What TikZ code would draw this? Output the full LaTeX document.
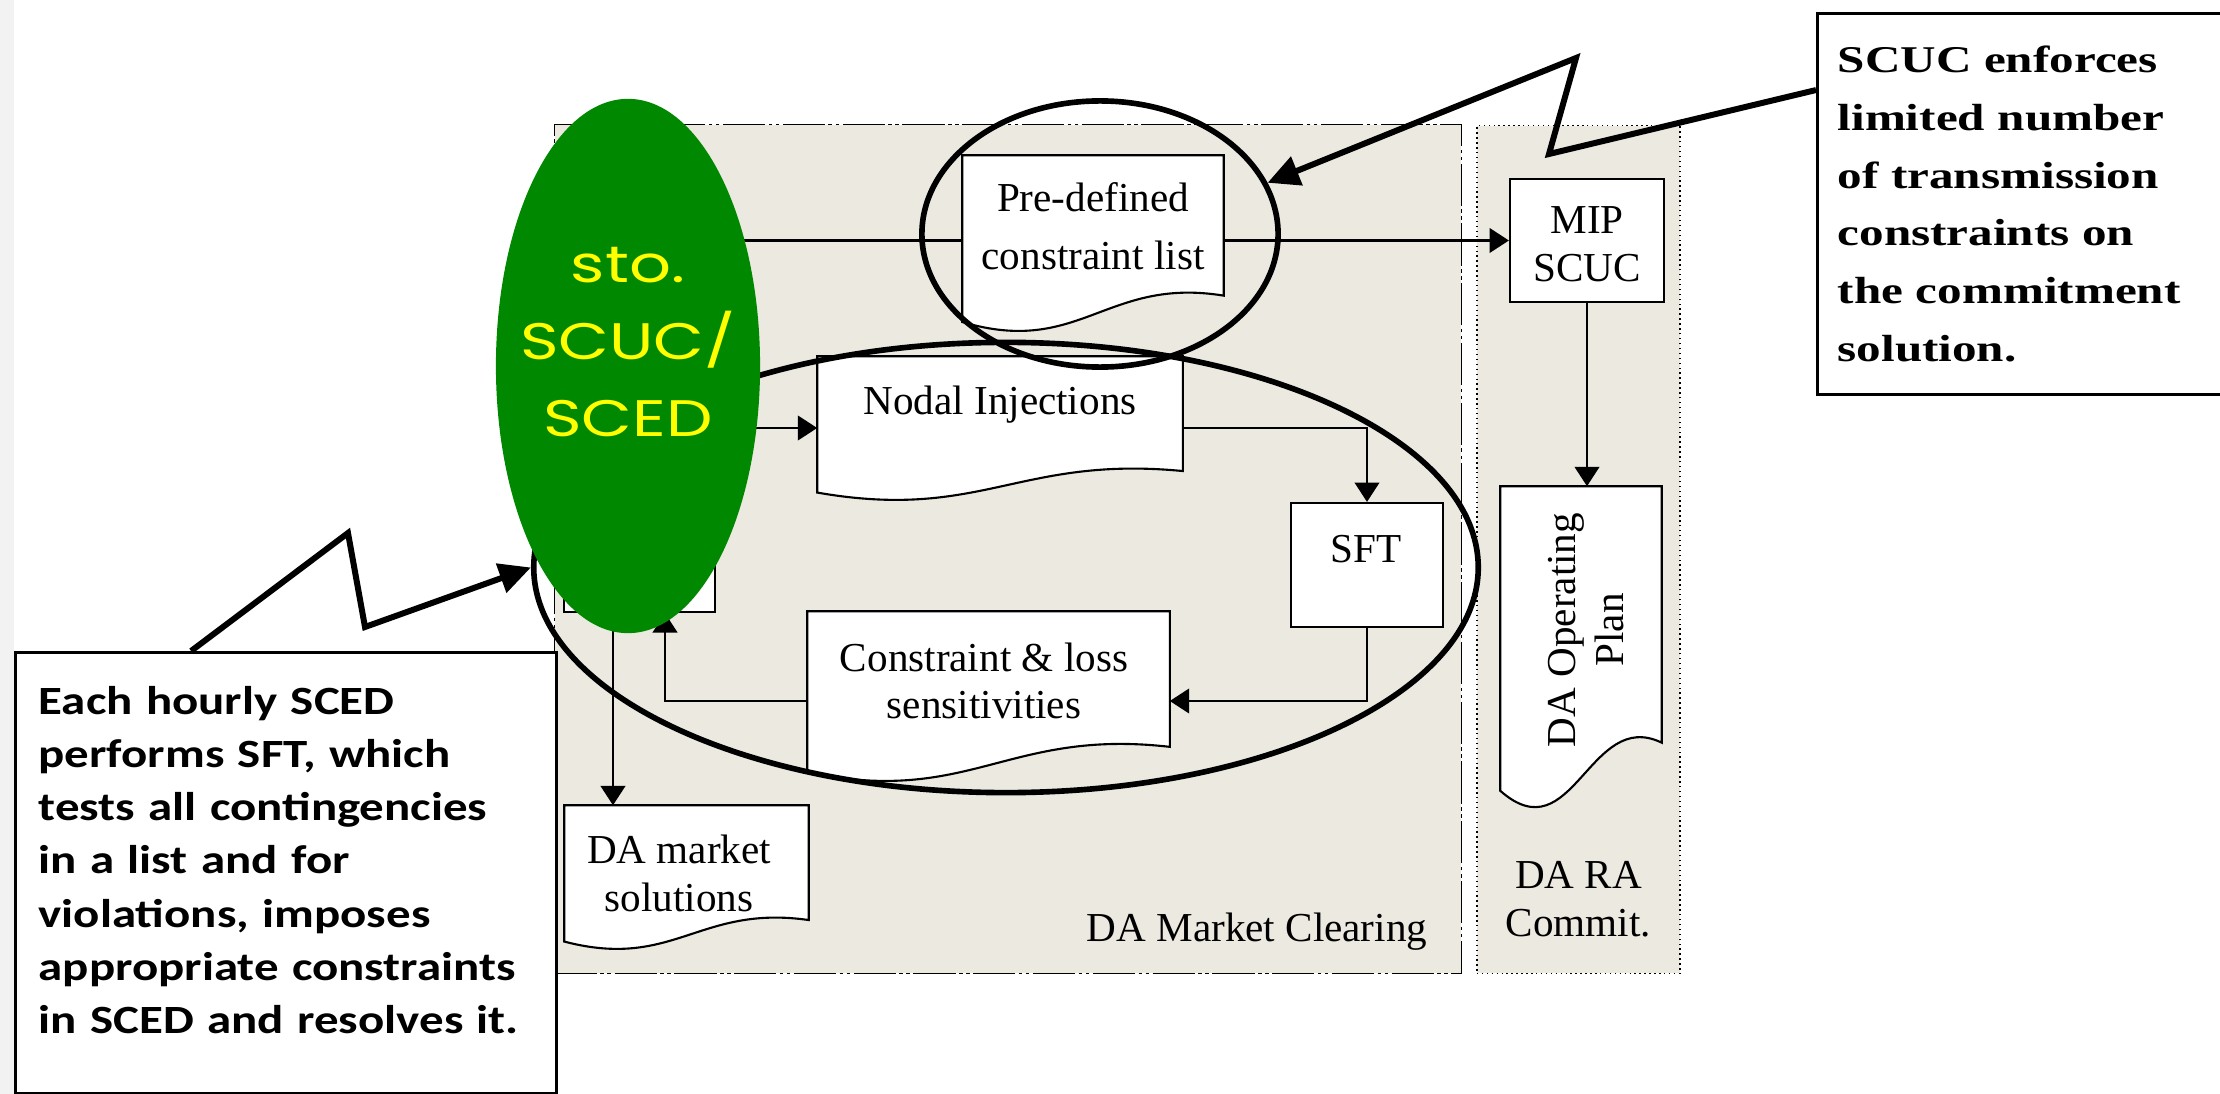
\documentclass[tikz,border=0pt]{standalone}
\usepackage{fontspec}
\setmainfont{Liberation Serif}
\newfontfamily\notefont[FakeStretch=1.22]{Carlito}
\newfontfamily\boldnotefont[FakeStretch=1.3]{Liberation Serif}
\newfontfamily\handfont[FakeStretch=1.28]{Poppins}
\usepackage{tikz}
\usetikzlibrary{shapes.geometric,arrows.meta,positioning,calc}
\definecolor{panelBeige}{RGB}{236,233,224}
\definecolor{stoGreen}{RGB}{0,137,0}
\definecolor{stoYellow}{RGB}{255,255,0}
\definecolor{edgeGray}{RGB}{242,242,242}
\newcommand{\docshape}[1]{%
  \begin{scope}[shift={(#1.south west)}, x={($(#1.south east)-(#1.south west)$)}, y={($(#1.north west)-(#1.south west)$)}]
    \filldraw[fill=white, line width=0.6pt] (0,1) -- (1,1) -- (1,0.2) .. controls (0.55,0.31) and (0.45,-0.15) .. (0,0.05) -- cycle;
  \end{scope}}

\begin{document}
\begin{tikzpicture}[x=0.01cm, y=-0.01cm, >={Triangle[length=5.5pt,width=7pt]},
    font=\fontsize{11.7}{13.6}\selectfont,
    panel/.style={draw, fill=panelBeige, line width=0.4pt, inner sep=0},
    box/.style={draw, rectangle, fill=white, line width=0.6pt, inner sep=0, align=center},
    doc/.style={rectangle, inner sep=0},
    txt/.style={inner sep=0, align=center},
    flow/.style={->, line width=0.6pt},
    ring/.style={draw, ellipse, line width=1.6pt, inner sep=0},
    bolt/.style={-{Triangle[length=9pt,width=8.5pt]}, line width=1.7pt},
    note/.style={draw, rectangle, fill=white, line width=0.8pt, inner sep=0, anchor=north west},
    notetxt/.style={inner sep=0, align=left, anchor=west}]

    \useasboundingbox (0,0) rectangle (2220,1094);
    \fill[edgeGray] (0,0) rectangle (14,1094);

    \node[panel, dash pattern=on 12pt off 1pt on 1pt off 1pt on 1pt off 1pt, minimum width=9.06cm, minimum height=8.48cm] (mktpanel) at (1008,549) {};
    \node[panel, densely dotted, minimum width=2.03cm, minimum height=8.47cm] (rapanel) at (1578.5,549.5) {};
    \node[txt, above left=0.23cm and 0.34cm of mktpanel.south east] (mktlbl) {DA Market Clearing};
    \node[txt, above=0.36cm of rapanel.south] (ralbl) {DA RA\\Commit.};

    \node[box, minimum width=1.51cm, minimum height=4cm] (sced) at (639.5,412) {};
    \node[box, minimum width=1.54cm, minimum height=1.23cm] (mip) at (1587,240.5) {};
    \node[txt] (miptxt) at (1587,244) {MIP\\SCUC};
    \draw[flow] (sced.east |- mip.west) -- (mip.west);

    \node[doc, minimum width=2.6cm, minimum height=1.74cm] (predef) at (1093,243) {};
    \docshape{predef}
    \node[txt] (predeftxt) at (1093,226) {Pre-defined\\[3pt]constraint list};
    \node[doc, minimum width=3.64cm, minimum height=1.42cm] (nodal) at (1000,428) {};
    \docshape{nodal}
    \node[txt] (nodaltxt) at (1000,405) {Nodal Injections};
    \node[box, minimum width=1.52cm, minimum height=1.24cm] (sft) at (1367,565) {};
    \node[txt] (sfttxt) at (1366,549) {SFT};
    \node[doc, minimum width=3.61cm, minimum height=1.68cm] (constr) at (988.5,696) {};
    \docshape{constr}
    \node[txt] (constrtxt) at (984,681) {Constraint \& loss\\sensitivities};
    \node[doc, minimum width=2.43cm, minimum height=1.42cm] (damkt) at (686.5,877) {};
    \docshape{damkt}
    \node[txt] (damkttxt) at (679,873.5) {DA market\\solutions};
    \node[doc, minimum width=1.6cm, minimum height=3.19cm] (daop) at (1581,646.5) {};
    \docshape{daop}
    \node[txt, rotate=90] (daoptxt) at (1586,630) {DA Operating\\Plan};

    \draw[flow] (sced.east |- nodal.west) -- (nodal.west);
    \draw[flow] (nodal.east) -| (sft.north);
    \draw[flow] (sft.south) |- ([yshift=-0.05cm]constr.east);
    \draw[flow] ([yshift=-0.05cm]constr.west) -| ([xshift=0.255cm]sced.south);
    \draw[flow] ([xshift=-0.265cm]sced.south) -- ([xshift=-0.265cm]sced.south |- damkt.north);
    \draw[flow] (mip.south) -- (mip.south |- daop.north);

    \node[ring, minimum width=3.56cm, minimum height=2.66cm] (ring1) at (1100,234) {};
    \node[ring, minimum width=9.44cm, minimum height=4.5cm] (ring2) at (1006,567.5) {};

    \node[ellipse, fill=stoGreen, minimum width=2.64cm, minimum height=5.34cm, inner sep=0] (sto) at (628,366) {};
    \node[txt, text=stoYellow, font=\handfont\fontsize{14.6}{22}\selectfont] (stotxt) at (628,342) {sto.\\SCUC/\\SCED};

    \node[note, minimum width=5.41cm, minimum height=4.41cm] (note1) at (14,651) {};
    \node[notetxt, font=\notefont\bfseries\fontsize{11.4}{15.1}\selectfont, text width=4.95cm] (note1txt) at (38,860)
      {Each hourly SCED\\ performs SFT, which\\ tests all contingencies\\ in a list and for\\ violations, imposes\\ appropriate constraints\\ in SCED and resolves it.};
    \node[note, minimum width=4.14cm, minimum height=3.81cm] (note2) at (1816,12) {};
    \node[notetxt, font=\boldnotefont\bfseries\fontsize{10.75}{16.4}\selectfont, text width=3.7cm] (note2txt) at (1837,204)
      {SCUC enforces\\ limited number\\ of transmission\\ constraints on\\ the commitment\\ solution.};

    \coordinate (bolt1a) at (348,533);
    \coordinate (bolt1b) at (365,627);
    \draw[bolt] ([xshift=1.77cm]note1.north west) -- (bolt1a) -- (bolt1b) -- (ring2.west);
    \coordinate (bolt2a) at (1549,154);
    \coordinate (bolt2b) at (1576,58);
    \draw[bolt] ([yshift=-0.78cm]note2.north west) -- (bolt2a) -- (bolt2b) -- (ring1.17);
\end{tikzpicture}
\end{document}
